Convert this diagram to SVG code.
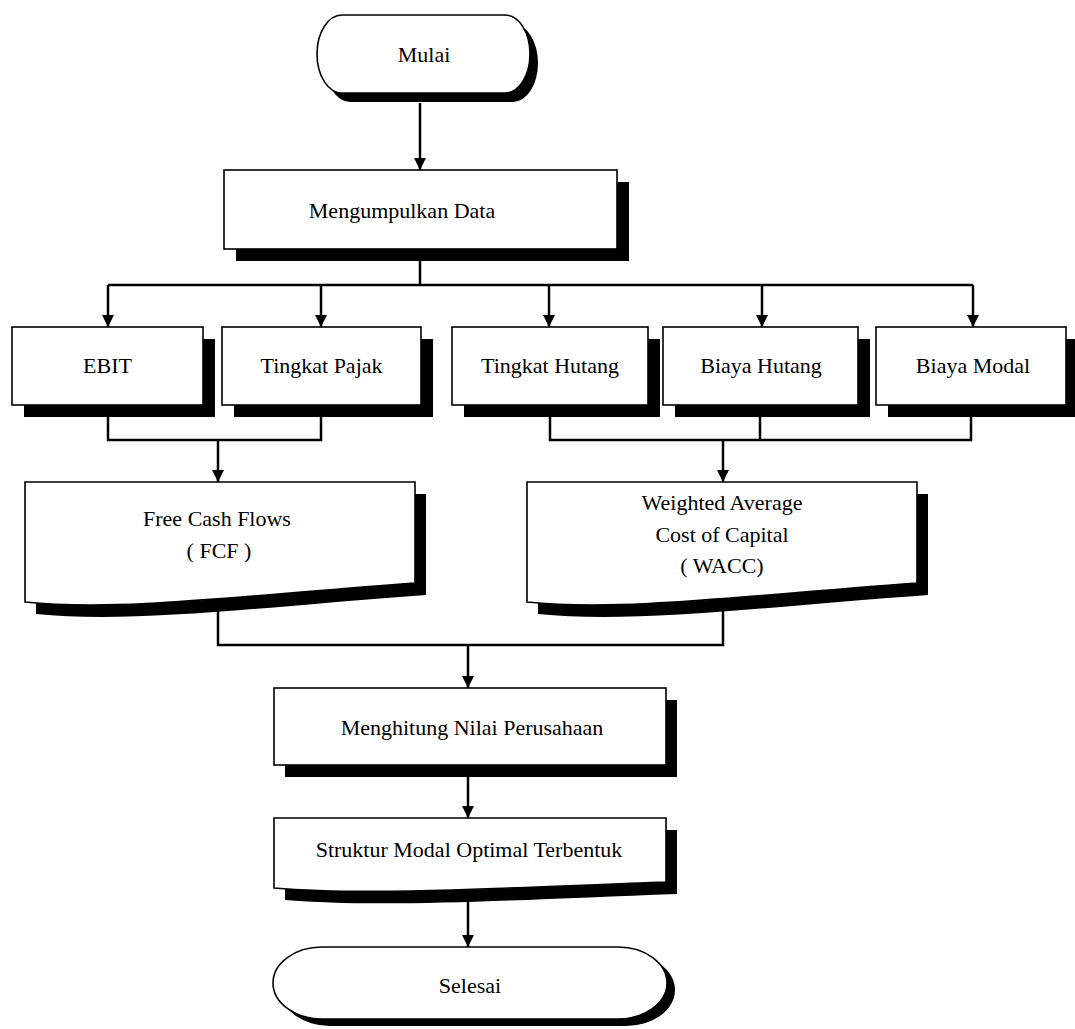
<svg xmlns="http://www.w3.org/2000/svg" width="1075" height="1029" viewBox="0 0 1075 1029">
  <style>
    .box { fill: #fff; stroke: #000; stroke-width: 1.6; }
    .shadow { fill: #000; }
    .lbl { font-family: "Liberation Serif", "Times New Roman", serif; font-size: 22px; fill: #000; text-anchor: middle; }
    .conn { fill: none; stroke: #000; stroke-width: 2.5; }
  </style>
  <defs>
    <marker id="ah" viewBox="0 0 12 12" refX="12" refY="6" markerWidth="12" markerHeight="12" markerUnits="userSpaceOnUse" orient="auto">
      <path d="M0,0 L12,6 L0,12 z" fill="#000"/>
    </marker>
    <path id="doc" d="M0,0 H390 V101 C225,113 95,130 0,120 Z"/>
    <path id="doc2" d="M0,0 H392 V64 C230,70 95,78 0,70 Z"/>
  </defs>

  <rect width="1075" height="1029" fill="#fff"/>

  <g id="connectors">
    <line class="conn" x1="420" y1="103" x2="420" y2="170" marker-end="url(#ah)"/>
    <polyline class="conn" points="420,261 420,285"/>
    <polyline class="conn" points="108,285 973,285"/>
    <line class="conn" x1="108" y1="285" x2="108" y2="327" marker-end="url(#ah)"/>
    <line class="conn" x1="321" y1="285" x2="321" y2="327" marker-end="url(#ah)"/>
    <line class="conn" x1="549" y1="285" x2="549" y2="327" marker-end="url(#ah)"/>
    <line class="conn" x1="762" y1="285" x2="762" y2="327" marker-end="url(#ah)"/>
    <line class="conn" x1="973" y1="285" x2="973" y2="327" marker-end="url(#ah)"/>
    <polyline class="conn" points="108,417 108,440 321,440 321,417"/>
    <line class="conn" x1="218" y1="440" x2="218" y2="482" marker-end="url(#ah)"/>
    <polyline class="conn" points="550,417 550,440 971,440 971,417"/>
    <line class="conn" x1="760" y1="417" x2="760" y2="440"/>
    <line class="conn" x1="723" y1="440" x2="723" y2="482" marker-end="url(#ah)"/>
    <polyline class="conn" points="218,610 218,645 723,645 723,605"/>
    <line class="conn" x1="468" y1="645" x2="468" y2="688" marker-end="url(#ah)"/>
    <line class="conn" x1="468" y1="777" x2="468" y2="818" marker-end="url(#ah)"/>
    <line class="conn" x1="468" y1="895" x2="468" y2="947" marker-end="url(#ah)"/>
  </g>

  <g id="mulai">
    <rect class="shadow" x="325" y="24" width="213" height="78" rx="25" ry="39"/>
    <rect class="box" x="317" y="15" width="213" height="78" rx="25" ry="39"/>
    <text class="lbl" x="424" y="62">Mulai</text>
  </g>

  <g id="mengumpulkan">
    <rect class="shadow" x="236" y="182" width="393" height="79"/>
    <rect class="box" x="224" y="170" width="393" height="79"/>
    <text class="lbl" x="402" y="218">Mengumpulkan Data</text>
  </g>

  <g id="ebit">
    <rect class="shadow" x="24" y="339" width="191" height="78"/>
    <rect class="box" x="12" y="327" width="191" height="78"/>
    <text class="lbl" x="107.5" y="373">EBIT</text>
  </g>

  <g id="tingkat-pajak">
    <rect class="shadow" x="234" y="339" width="199" height="78"/>
    <rect class="box" x="222" y="327" width="199" height="78"/>
    <text class="lbl" x="321.5" y="373">Tingkat Pajak</text>
  </g>

  <g id="tingkat-hutang">
    <rect class="shadow" x="464" y="339" width="196" height="78"/>
    <rect class="box" x="452" y="327" width="196" height="78"/>
    <text class="lbl" x="550" y="373">Tingkat Hutang</text>
  </g>

  <g id="biaya-hutang">
    <rect class="shadow" x="675" y="339" width="195" height="78"/>
    <rect class="box" x="663" y="327" width="195" height="78"/>
    <text class="lbl" x="761" y="373">Biaya Hutang</text>
  </g>

  <g id="biaya-modal">
    <rect class="shadow" x="888" y="339" width="190" height="78"/>
    <rect class="box" x="876" y="327" width="190" height="78"/>
    <text class="lbl" x="973" y="373">Biaya Modal</text>
  </g>

  <g id="fcf">
    <use href="#doc" class="shadow" x="36" y="494"/>
    <use href="#doc" class="box" x="25" y="482"/>
    <text class="lbl" x="217" y="526">Free Cash Flows</text>
    <text class="lbl" x="219" y="558">( FCF )</text>
  </g>

  <g id="wacc">
    <use href="#doc" class="shadow" x="538" y="494"/>
    <use href="#doc" class="box" x="527" y="482"/>
    <text class="lbl" x="722" y="510">Weighted Average</text>
    <text class="lbl" x="722" y="542">Cost of Capital</text>
    <text class="lbl" x="722" y="573">( WACC)</text>
  </g>

  <g id="menghitung">
    <rect class="shadow" x="285" y="700" width="392" height="77"/>
    <rect class="box" x="274" y="688" width="392" height="77"/>
    <text class="lbl" x="472" y="735">Menghitung Nilai Perusahaan</text>
  </g>

  <g id="struktur">
    <use href="#doc2" class="shadow" x="285" y="830"/>
    <use href="#doc2" class="box" x="274" y="818"/>
    <text class="lbl" x="469" y="857">Struktur Modal Optimal Terbentuk</text>
  </g>

  <g id="selesai">
    <rect class="shadow" x="281" y="954" width="394" height="72" rx="49" ry="36"/>
    <rect class="box" x="273" y="947" width="394" height="72" rx="49" ry="36"/>
    <text class="lbl" x="470" y="993">Selesai</text>
  </g>
</svg>
